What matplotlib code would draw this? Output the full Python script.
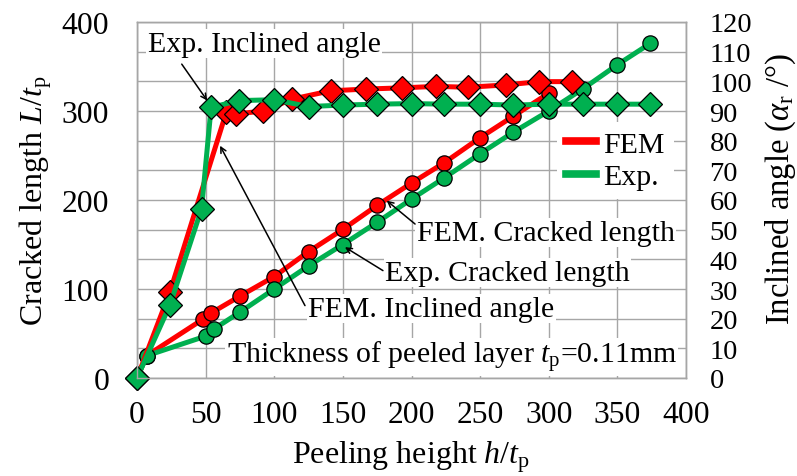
import matplotlib
matplotlib.use("Agg")
import matplotlib.pyplot as plt
from matplotlib.lines import Line2D
from matplotlib.ticker import MultipleLocator

# cracked length (left axis)
h_fem_len = [0, 7, 48, 54, 75, 100, 125, 150, 175, 200, 224, 250, 274, 300]
L_fem = [0, 25, 66, 73, 92, 114, 142, 167, 194, 219, 242, 270, 294, 320]
h_exp_len = [0, 7, 50, 56, 75, 100, 125, 150, 175, 200, 224, 250, 274, 300, 325, 350, 374]
L_exp = [0, 25, 47, 55, 74, 100, 126, 150, 175, 201, 225, 252, 276, 300, 325, 352, 376]

# inclined angle (right axis)
h_fem_ang = [0, 24, 65, 72, 92, 113, 141, 167, 193, 218, 241, 269, 293, 317]
a_fem = [0, 29, 89.5, 89, 90, 94, 96.8, 97.4, 97.8, 98.3, 98, 98.8, 99.9, 99.9]
h_exp_ang = [0, 24, 47, 54, 74, 100, 125, 150, 175, 200, 224, 250, 274, 300, 325, 350, 374]
a_exp = [0, 24.6, 57, 91.2, 93.5, 93.8, 91.5, 92, 92.3, 92.5, 92.3, 92.3, 92, 92.3, 92.3, 92.3, 92.3]

RED = "#ff0000"
GREEN = "#00b050"
GRID = "#a6a6a6"

plt.rcParams["font.family"] = ["Liberation Serif", "DejaVu Serif"]
plt.rcParams["mathtext.fontset"] = "custom"
plt.rcParams["mathtext.rm"] = "Liberation Serif"
plt.rcParams["mathtext.it"] = "Liberation Serif:italic"

fs = 21.5      # annotations / legend
fs_tick = 22.8
fs_lab = 23
fig = plt.figure(figsize=(7.97, 4.77), dpi=100)
ax1 = fig.add_axes([137/797, 98/477, 549/797, 356/477])
ax2 = ax1.twinx()

ax1.set_xlim(0, 400)
ax1.set_ylim(0, 400)
ax2.set_ylim(0, 120)
ax1.xaxis.set_major_locator(MultipleLocator(50))
ax1.yaxis.set_major_locator(MultipleLocator(100))
ax1.yaxis.set_minor_locator(MultipleLocator(400/12))
ax2.yaxis.set_major_locator(MultipleLocator(10))

ax1.set_axisbelow(True)
ax1.grid(True, which="major", axis="x", color=GRID, lw=1)
ax1.grid(True, which="both", axis="y", color=GRID, lw=1)
for ax in (ax1, ax2):
    for s in ax.spines.values():
        s.set_color(GRID)
        s.set_linewidth(1)
ax1.tick_params(which="both", length=0)
ax1.tick_params(axis="x", labelsize=fs_tick, pad=16)
ax1.tick_params(axis="y", labelsize=fs_tick, pad=20)
ax2.tick_params(length=0, labelsize=20.5, pad=17)

lw = 3.6
ax1.plot(h_fem_len, L_fem, color=RED, lw=lw, marker="o", ms=11,
         mfc=RED, mec="black", mew=0.9, clip_on=False)
ax1.plot(h_exp_len, L_exp, color=GREEN, lw=lw, marker="o", ms=11,
         mfc=GREEN, mec="black", mew=0.9, clip_on=False)
ax2.plot(h_fem_ang, a_fem, color=RED, lw=lw, marker="D", ms=12.5,
         mfc=RED, mec="black", mew=0.9, clip_on=False)
ax2.plot(h_exp_ang, a_exp, color=GREEN, lw=lw, marker="D", ms=12.5,
         mfc=GREEN, mec="black", mew=0.9, clip_on=False)

ax1.set_xlabel(r"Peeling height $\mathit{h}/\mathit{t}_{\mathrm{p}}$", fontsize=fs_lab)
ax1.set_ylabel(r"Cracked length $\mathit{L}/\mathit{t}_{\mathrm{p}}$", fontsize=fs_lab)
ax2.set_ylabel(r"Inclined angle ($\alpha_{\mathrm{r}}$ /°)", fontsize=fs_lab + 0.5)
ax1.xaxis.set_label_coords(0.5, -0.17)
ax1.yaxis.set_label_coords(-0.152, 0.5)
ax2.yaxis.set_label_coords(1.142, 0.535)

box = dict(facecolor="white", edgecolor="none", pad=1)
arrow = dict(arrowstyle="->", color="black", lw=1.1, shrinkA=0, shrinkB=0)
ax2.text(8, 112.6, "Exp. Inclined angle", fontsize=fs, va="center", bbox=box, zorder=5)
ax2.annotate("", xy=(51.2, 93.5), xytext=(32.6, 105.8), arrowprops=arrow, zorder=6)
ax2.text(124.6, 23.3, "FEM. Inclined angle", fontsize=fs, va="center", bbox=box, zorder=5)
ax2.annotate("", xy=(60.5, 78.3), xytext=(122.4, 24.4), arrowprops=arrow, zorder=6)
ax2.text(203.8, 48.9, "FEM. Cracked length", fontsize=fs, va="center", bbox=box, zorder=5)
ax2.annotate("", xy=(181.9, 59.8), xytext=(202.6, 51.9), arrowprops=arrow, zorder=6)
ax2.text(180.7, 35.4, "Exp. Cracked length", fontsize=fs, va="center", bbox=box, zorder=5)
ax2.annotate("", xy=(151.5, 44.1), xytext=(179.2, 36.2), arrowprops=arrow, zorder=6)
ax2.text(65.4, 7.2, r"Thickness of peeled layer $\mathit{t}_{\mathrm{p}}$=0.11mm",
         fontsize=fs, va="center", bbox=box, zorder=5)

handles = [Line2D([], [], color=RED, lw=5.5), Line2D([], [], color=GREEN, lw=5.5)]
leg = ax2.legend(handles, ["FEM", "Exp."], loc="upper left",
                 bbox_to_anchor=(0.765, 0.72), fontsize=fs, frameon=True,
                 fancybox=False, handlelength=1.0, handletextpad=0.25,
                 labelspacing=0.2, borderpad=0.3, borderaxespad=0)
leg.get_frame().set_edgecolor("none")
leg.get_frame().set_facecolor("white")
leg.get_frame().set_alpha(1)

fig.savefig("out.png", dpi=100)
